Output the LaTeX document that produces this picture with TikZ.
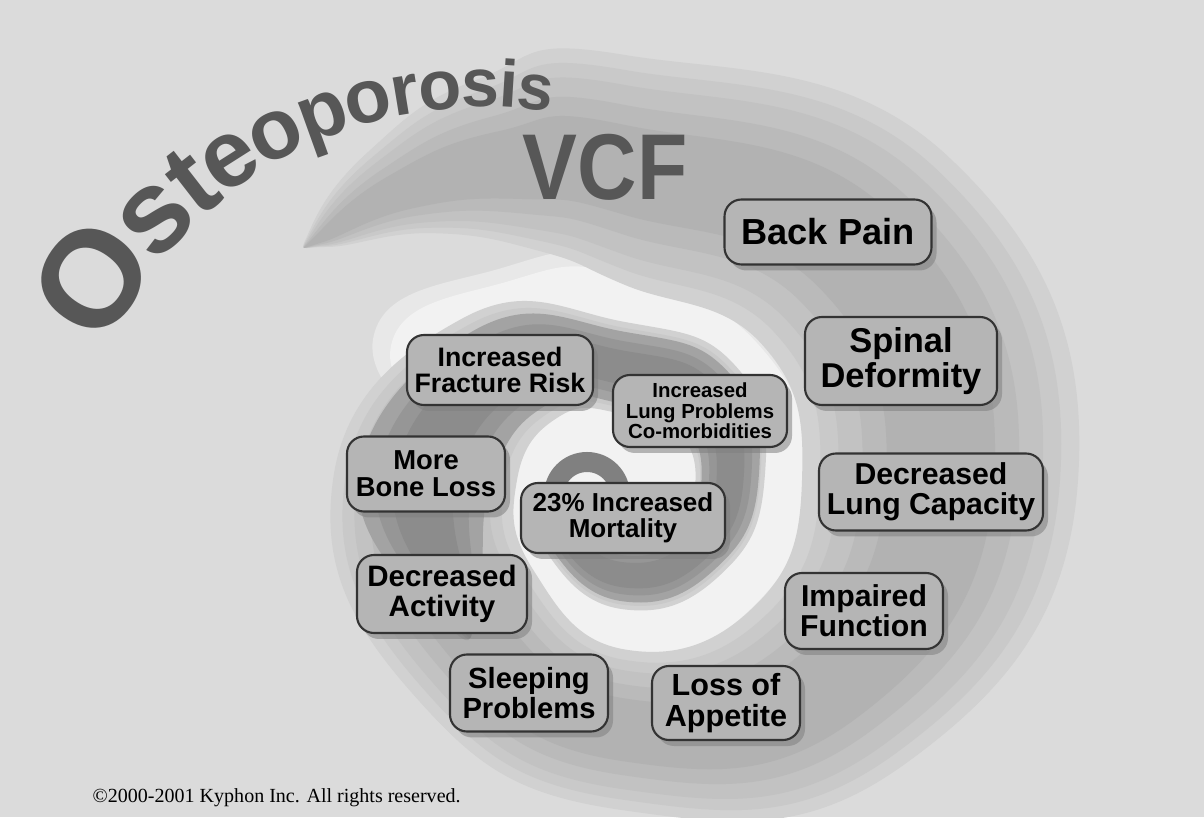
\documentclass[tikz,border=0pt]{standalone}
\usepackage{fontspec}
\setmainfont{Liberation Sans}
\newfontfamily\copyfont{Liberation Serif}
\usetikzlibrary{shadows}

\definecolor{paper}{gray}{0.86}
\definecolor{gap}{gray}{0.95}
\definecolor{gapedge}{gray}{0.91}
\definecolor{bandA}{gray}{0.82}
\definecolor{bandB}{gray}{0.79}
\definecolor{bandC}{gray}{0.76}
\definecolor{bandD}{gray}{0.73}
\definecolor{bandE}{gray}{0.70}
\definecolor{deepA}{gray}{0.64}
\definecolor{deepB}{gray}{0.59}
\definecolor{deepC}{gray}{0.55}
\definecolor{arcgray}{gray}{0.50}
\definecolor{boxgray}{gray}{0.71}
\definecolor{inkgray}{gray}{0.34}

\newcommand\boxfont[1]{\fontsize{#1}{#1}\selectfont\bfseries}

% angle/radius/half width of the grey spiral, centred on its own origin
\def\spiralA{142/3.9/0.1, 128/3.65/0.45, 110/3.35/0.8, 90/3.1/1.0,
  45/3.25/1.15, 0/3.15/1.2, -45/2.9/0.95, -90/2.5/0.7, -135/2.15/0.75,
  -180/2.0/0.8, -225/1.6/0.6, -270/1.12/0.4, -315/1.15/0.38, -360/1.05/0.3,
  -405/1.0/0.3, -450/0.95/0.3, -495/0.82/0.22, -530/0.72/0.08}
\def\spiralB{-140/2.1/0.2, -180/2.0/0.7, -225/1.6/0.55, -270/1.12/0.38,
  -315/1.15/0.36, -360/1.05/0.3, -405/1.0/0.28, -450/0.95/0.28,
  -495/0.82/0.2, -530/0.72/0.06}

% band between r-k*w and r+k*w along a list
\newcommand\spiralband[3]{%
  \gdef\bandout{}\gdef\bandin{}%
  \foreach \a/\r/\w in #1{%
    \pgfmathsetmacro\ro{\r+#2*\w}%
    \pgfmathsetmacro\ri{\r-#2*\w}%
    \xdef\bandout{\bandout (\a:\ro)}%
    \xdef\bandin{(\a:\ri) \bandin}%
  }%
  \edef\bandcmd{\noexpand\fill[#3] plot[smooth cycle, tension=.8]
    coordinates {\bandout \bandin};}%
  \bandcmd
}

\begin{document}
\begin{tikzpicture}[
    sym/.style={draw=black!80, line width=.6pt, rounded corners=.17cm,
      fill=boxgray, align=center, inner sep=1pt,
      drop shadow={shadow xshift=.05cm, shadow yshift=-.06cm, opacity=.55}},
    letter/.style={text=inkgray, inner sep=0pt,
      font=\fontsize{20}{20}\selectfont\bfseries}]
  \useasboundingbox (0,0) rectangle (12.04,8.17);
  \fill[paper] (0,0) rectangle (12.04,8.17);

  % the spiral
  \begin{scope}[shift={(6.25,3.37)}]
    \fill[gapedge] plot[smooth cycle, tension=.8] coordinates {(150:2.9) (120:2.45)
      (90:2.2) (45:2.05) (0:1.95) (-45:1.95) (-90:1.9) (-135:1.85) (180:1.75)};
    \fill[gap] plot[smooth cycle, tension=.8] coordinates {(150:2.7) (120:2.3)
      (90:2.05) (45:1.9) (0:1.82) (-45:1.8) (-90:1.78) (-135:1.72) (180:1.6)};
    \spiralband{\spiralA}{1.15}{bandA}
    \spiralband{\spiralA}{1.0}{bandB}
    \spiralband{\spiralA}{0.85}{bandC}
    \spiralband{\spiralA}{0.65}{bandD}
    \spiralband{\spiralA}{0.45}{bandE}
    \spiralband{\spiralB}{0.95}{deepA}
    \spiralband{\spiralB}{0.7}{deepB}
    \spiralband{\spiralB}{0.45}{deepC}
  \end{scope}
  \draw[arcgray, line width=.2cm] (5.54,3.22) arc[start angle=180, end angle=0, radius=.33];

  % the titles
  \begin{scope}[shift={(4.80,2.63)}]
    \gdef\curth{151.2}\gdef\curhw{0}
    \foreach \ch/\sz [count=\i] in {O/39, s/33.5, t/30, e/27, o/24.3, p/22.7,
        o/21.6, r/20.5, o/20, s/19.4, i/18.9, s/18.4}{
      \fontsize{20}{20}\selectfont\bfseries
      \pgfmathsetmacro\hw{width("\ch")*\sz/40/28.4527}
      \pgfmathsetmacro\th{\curth-(\curhw+\hw)/4.65*180/pi}
      \node[letter, anchor=mid, scale=\sz/20, rotate=\th-90] (ost\i) at (\th:4.65) {\ch};
      \xdef\curth{\th}\xdef\curhw{\hw}
    }
  \end{scope}
  \node[text=inkgray, font=\fontsize{26.6}{26.6}\selectfont\bfseries, xscale=.88]
    (vcf) at (6.05,6.50) {VCF};

  % the consequences
  \node[sym, minimum width=2.07cm, minimum height=.65cm, font=\boxfont{10.3}] (backpain) at (8.28,5.85) {Back Pain};
  \node[sym, minimum width=1.92cm, minimum height=.88cm, font=\boxfont{9.8}] (spinal) at (9.01,4.56) {Spinal\\Deformity};
  \node[sym, minimum width=2.24cm, minimum height=.77cm, font=\boxfont{8.6}] (lungcap) at (9.31,3.25) {Decreased\\Lung Capacity};
  \node[sym, minimum width=1.58cm, minimum height=.76cm, font=\boxfont{8.6}] (impaired) at (8.64,2.06) {Impaired\\Function};
  \node[sym, minimum width=1.48cm, minimum height=.74cm, font=\boxfont{8.7}] (appetite) at (7.26,1.14) {Loss of\\Appetite};
  \node[sym, minimum width=1.58cm, minimum height=.77cm, font=\boxfont{8.3}] (sleeping) at (5.29,1.24) {Sleeping\\Problems};
  \node[sym, minimum width=1.70cm, minimum height=.78cm, font=\boxfont{8.4}] (activity) at (4.42,2.23) {Decreased\\Activity};
  \node[sym, minimum width=1.58cm, minimum height=.75cm, font=\boxfont{7.8}] (boneloss) at (4.26,3.43) {More\\Bone Loss};
  \node[sym, minimum width=1.86cm, minimum height=.70cm, font=\boxfont{7.6}] (fracture) at (5.00,4.47) {Increased\\Fracture Risk};
  \node[sym, minimum width=1.74cm, minimum height=.72cm, font=\boxfont{5.8}] (lungprob) at (7.00,4.06) {Increased\\Lung Problems\\Co-morbidities};
  \node[sym, minimum width=2.04cm, minimum height=.70cm, font=\boxfont{7.4}] (mortality) at (6.23,2.99) {23\% Increased\\Mortality};

  \node[anchor=base west, inner sep=0pt, font=\copyfont\fontsize{5.7}{6}\selectfont]
    (rights) at (0.92,0.14) {©2000-2001 Kyphon Inc. All rights reserved.};
\end{tikzpicture}
\end{document}
